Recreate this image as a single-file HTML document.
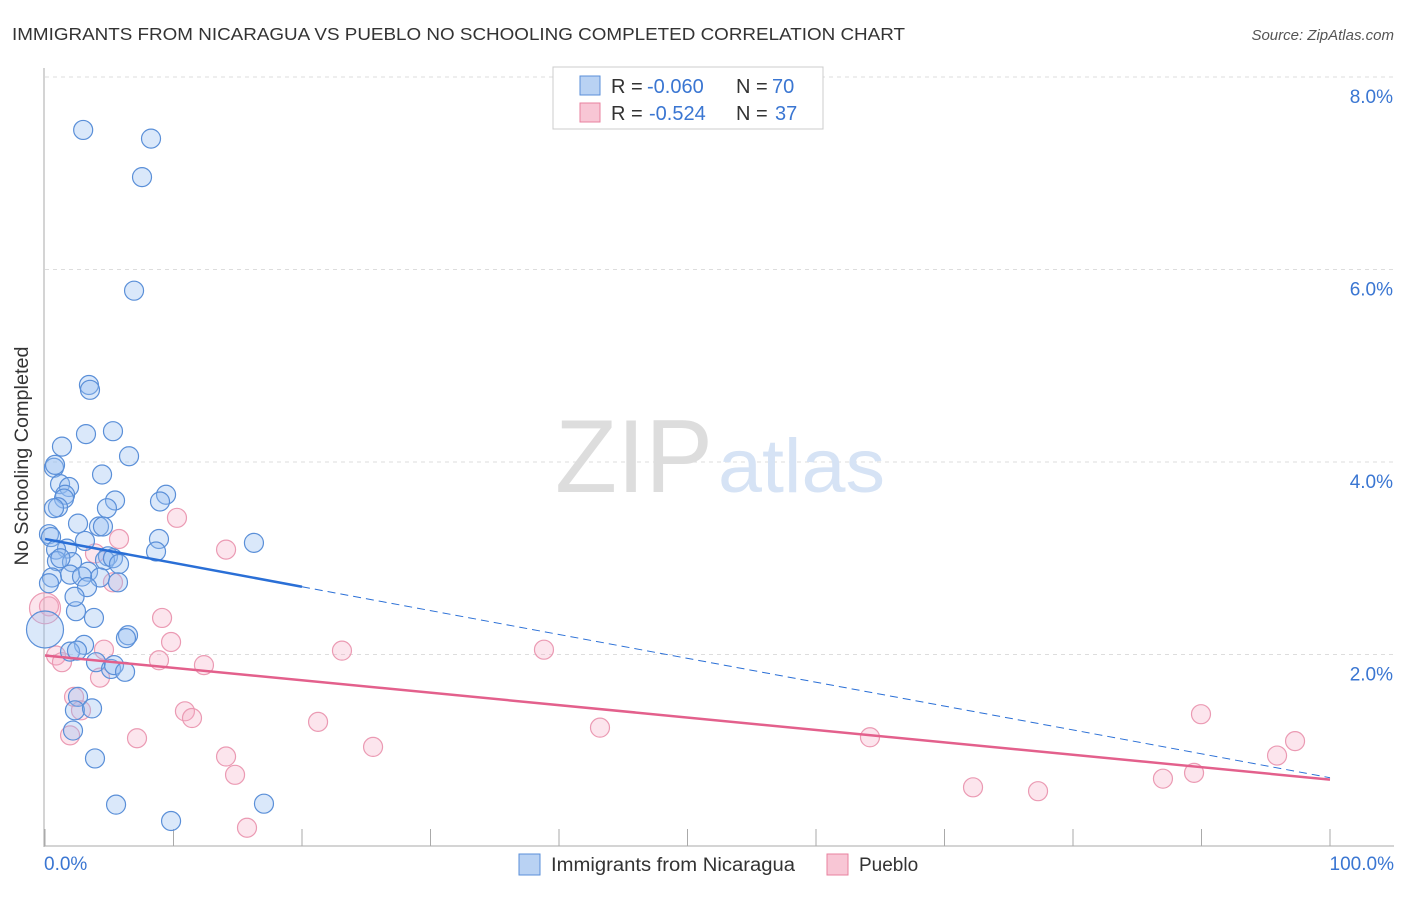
<!DOCTYPE html>
<html><head><meta charset="utf-8"><style>
body{margin:0;background:#fff;font-family:"Liberation Sans",sans-serif;}
svg text{font-family:"Liberation Sans",sans-serif;}
</style></head><body>
<svg id="chart" width="1406" height="892" viewBox="0 0 1406 892">
<text x="12" y="40" font-size="17.5" fill="#333" textLength="893" lengthAdjust="spacingAndGlyphs">IMMIGRANTS FROM NICARAGUA VS PUEBLO NO SCHOOLING COMPLETED CORRELATION CHART</text>
<text x="1394" y="40" font-size="15" fill="#555" text-anchor="end" font-style="italic">Source: ZipAtlas.com</text>
<g id="grid"></g>
<text x="28" y="456" font-size="19" fill="#333" text-anchor="middle" textLength="219" lengthAdjust="spacingAndGlyphs" transform="rotate(-90 28 456)">No Schooling Completed</text>
<text x="713" y="492" font-size="104" fill="#ddd" text-anchor="end" font-family="Liberation Serif" textLength="158" lengthAdjust="spacingAndGlyphs">ZIP</text>
<text x="718" y="492" font-size="76" fill="#d6e3f5" textLength="167" lengthAdjust="spacingAndGlyphs">atlas</text>
<g id="marks"></g>
<g>
<rect x="553" y="67" width="270" height="62" fill="#fff" stroke="#ccc"/>
<rect x="580" y="76" width="20" height="19" fill="#b9d2f3" stroke="#5a8fd8"/>
<rect x="580" y="103" width="20" height="19" fill="#f8c6d5" stroke="#e8819f"/>
<text x="611" y="93" font-size="20" fill="#333">R =</text>
<text x="647" y="93" font-size="20" fill="#3a76d2">-0.060</text>
<text x="736" y="93" font-size="20" fill="#333">N =</text>
<text x="772" y="93" font-size="20" fill="#3a76d2">70</text>
<text x="611" y="120" font-size="20" fill="#333">R =</text>
<text x="649" y="120" font-size="20" fill="#3a76d2">-0.524</text>
<text x="736" y="120" font-size="20" fill="#333">N =</text>
<text x="775" y="120" font-size="20" fill="#3a76d2">37</text>
</g>
<g>
<rect x="519" y="854" width="21" height="21" fill="#b9d2f3" stroke="#5a8fd8"/>
<text x="551" y="871" font-size="19" fill="#333" textLength="244" lengthAdjust="spacingAndGlyphs">Immigrants from Nicaragua</text>
<rect x="827" y="854" width="21" height="21" fill="#f8c6d5" stroke="#e8819f"/>
<text x="859" y="871" font-size="19" fill="#333">Pueblo</text>
</g>
</svg>
<script>
const yTicks=[2,4,6,8];
const xTickLabels=["0.0%","100.0%"];
const blueX=[2.97,8.25,7.55,6.93,3.42,3.5,5.29,3.19,1.32,6.54,0.7,4.44,1.17,1.87,1.56,1.48,5.45,9.42,8.95,1.01,0.7,4.82,2.57,4.2,4.51,8.87,3.11,0.31,0.47,1.71,0.86,8.64,16.26,4.9,4.67,5.29,0.93,2.1,5.76,3.35,4.28,0.54,1.95,2.88,5.68,3.27,0.31,2.41,3.81,6.46,6.3,3.04,1.95,2.49,3.97,5.14,5.37,6.23,2.57,2.33,3.66,2.18,3.89,5.53,17.04,9.81,0.0,0.78,1.2,2.3];
const blueY=[7.45,7.36,6.96,5.78,4.8,4.75,4.32,4.29,4.16,4.06,3.94,3.87,3.77,3.74,3.66,3.62,3.6,3.66,3.59,3.53,3.52,3.52,3.36,3.33,3.33,3.2,3.18,3.25,3.22,3.1,3.09,3.07,3.16,3.02,2.98,3.0,2.97,2.96,2.94,2.86,2.8,2.8,2.83,2.81,2.75,2.7,2.74,2.45,2.38,2.2,2.17,2.1,2.03,2.04,1.92,1.85,1.89,1.82,1.56,1.42,1.44,1.21,0.92,0.44,0.45,0.27,2.26,3.97,3.0,2.6];
const blueR=[9,9,9,9,9,9,9,9,9,9,9,9,9,9,9,9,9,9,9,9,9,9,9,9,9,9,9,9,9,9,9,9,9,9,9,9,9,9,9,9,9,9,9,9,9,9,9,9,9,9,9,9,9,9,9,9,9,9,9,9,9,9,9,9,9,9,18,9,9,9];
const pinkX=[10.27,14.09,5.76,3.89,5.29,0.31,9.11,9.81,4.59,0.86,1.32,8.87,12.37,23.11,38.83,2.26,2.8,4.28,10.89,11.44,21.25,43.19,7.16,1.95,14.09,14.79,25.53,64.2,72.22,77.28,87.0,89.42,89.96,95.88,97.28,15.72,0.0];
const pinkY=[3.42,3.09,3.2,3.05,2.75,2.5,2.38,2.13,2.05,1.99,1.92,1.94,1.89,2.04,2.05,1.56,1.42,1.76,1.41,1.34,1.3,1.24,1.13,1.16,0.94,0.75,1.04,1.14,0.62,0.58,0.71,0.77,1.38,0.95,1.1,0.2,2.48];
const pinkR=[9,9,9,9,9,9,9,9,9,9,9,9,9,9,9,9,9,9,9,9,9,9,9,9,9,9,9,9,9,9,9,9,9,9,9,9,15];
const blueTrend=[3.2,0.72];
const pinkTrend=[1.99,0.7];
const X0=45,X1=1330,Y0=847,YPX=96.25;
function sx(v){return X0+(X1-X0)*v/100;}
function sy(v){return Y0-v*YPX;}
const NS="http://www.w3.org/2000/svg";
function mk(t,a,p){const e=document.createElementNS(NS,t);for(const k in a)e.setAttribute(k,a[k]);p.appendChild(e);return e;}
const grid=document.getElementById('grid');
const marks=document.getElementById('marks');
yTicks.forEach(v=>{
const l=mk('line',{x1:45,x2:1394,y1:sy(v),y2:sy(v),stroke:'#ddd','stroke-dasharray':'4,4'},grid);


const t=mk('text',{x:1393,y:sy(v)+26,'font-size':19,fill:'#3a76d2','text-anchor':'end'},grid);
t.textContent=v.toFixed(1)+'%';


});
const ax=mk('line',{x1:44,x2:44,y1:68,y2:847,stroke:'#aaa'},grid);


const bx=mk('line',{x1:44,x2:1394,y1:846,y2:846,stroke:'#aaa'},grid);


for(let i=0;i<=10;i++){const v=i*10;
const tk=mk('line',{x1:sx(v),x2:sx(v),y1:829,y2:846,stroke:'#aaa'},grid);

}
[[0,'start',44],[100,'end',1394]].forEach((d,i)=>{
const t=mk('text',{x:d[2],y:870,'font-size':19,fill:'#3a76d2','text-anchor':d[1]},grid);
t.textContent=xTickLabels[i];

});
pinkX.forEach((x,i)=>{const c=mk('circle',{cx:sx(x),cy:sy(pinkY[i]),r:pinkR[i]+0.5,fill:'rgba(246,170,195,0.3)',stroke:'#eb9ab3','stroke-width':1.2},marks);

});
blueX.forEach((x,i)=>{const c=mk('circle',{cx:sx(x),cy:sy(blueY[i]),r:blueR[i]+0.5,fill:'rgba(150,190,240,0.35)',stroke:'#5a8fd8','stroke-width':1.2},marks);

});
function ty(tr,x){return tr[0]+(tr[1]-tr[0])*x/100;}
const b1=mk('line',{x1:sx(0),y1:sy(ty(blueTrend,0)),x2:sx(20),y2:sy(ty(blueTrend,20)),stroke:'#2a6fd6','stroke-width':2.5},marks);


const b2=mk('line',{x1:sx(20),y1:sy(ty(blueTrend,20)),x2:sx(100),y2:sy(ty(blueTrend,100)),stroke:'#2a6fd6','stroke-width':1,'stroke-dasharray':'8,5'},marks);


const p1=mk('line',{x1:sx(0),y1:sy(ty(pinkTrend,0)),x2:sx(100),y2:sy(ty(pinkTrend,100)),stroke:'#e3608c','stroke-width':2.5},marks);


</script>
</body></html>
